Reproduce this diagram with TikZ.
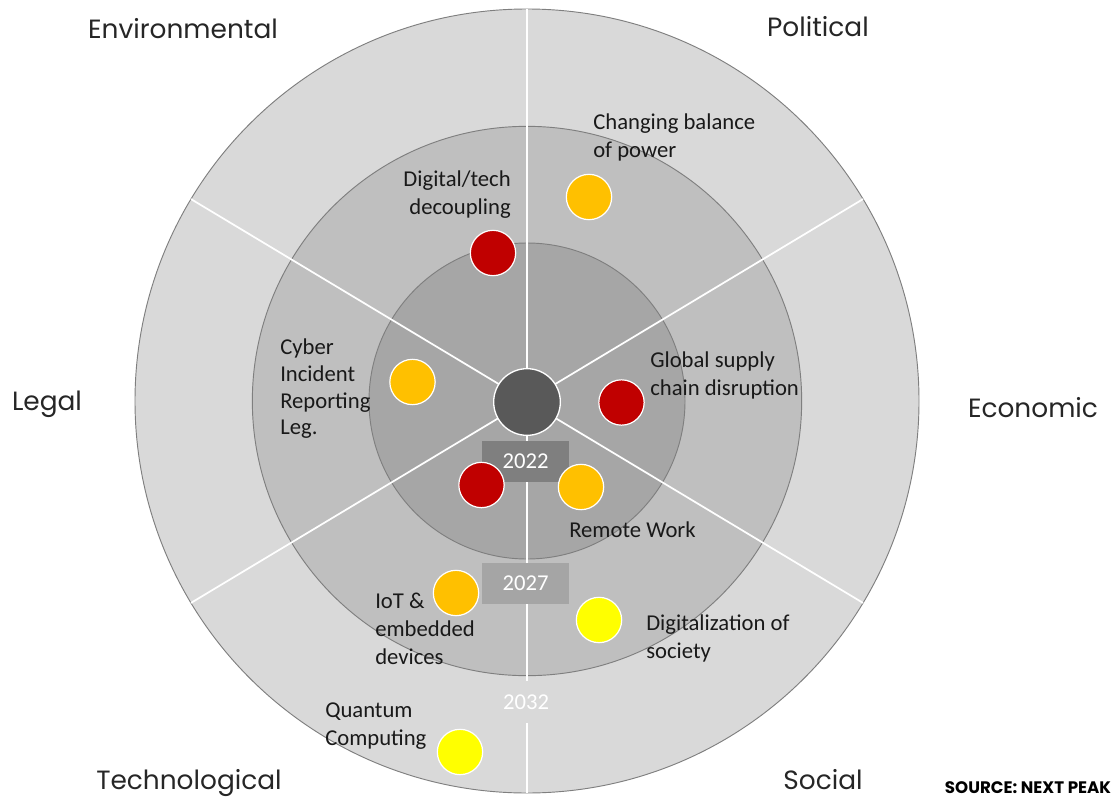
\documentclass[tikz,border=0pt]{standalone}
\usepackage{fontspec}
\newfontfamily\itemfont{Carlito}
\newfontfamily\sectorfont{Poppins}
\definecolor{ringout}{HTML}{D9D9D9}
\definecolor{ringmid}{HTML}{BFBFBF}
\definecolor{ringin}{HTML}{A6A6A6}
\definecolor{ringline}{HTML}{7F7F7F}
\definecolor{corefill}{HTML}{595959}
\definecolor{boxtwo}{HTML}{7F7F7F}
\definecolor{boxseven}{HTML}{A5A5A5}
\definecolor{dotred}{HTML}{C00000}
\definecolor{dotorange}{HTML}{FFC000}
\definecolor{dotyellow}{HTML}{FFFF00}
\definecolor{textgray}{HTML}{262626}

\begin{document}
\begin{tikzpicture}[
    x=0.75pt, y=-0.75pt,
    ring/.style={draw=ringline, line width=0.7pt},
    spoke/.style={draw=white, line width=1.3pt},
    dot/.style={circle, draw=white, line width=0.9pt, minimum size=34pt, inner sep=0pt},
    red_dot/.style={dot, fill=dotred},
    orange_dot/.style={dot, fill=dotorange},
    yellow_dot/.style={dot, fill=dotyellow},
    item/.style={font=\itemfont\fontsize{17}{21}\selectfont, text=black!90, inner sep=0pt, align=left, anchor=west},
    sector/.style={font=\sectorfont\fontsize{19.8}{19.8}\selectfont, text=textgray, inner sep=0pt, anchor=base},
    year_box/.style={minimum width=65pt, minimum height=31pt, inner sep=0pt, text=white, font=\itemfont\fontsize{17}{17}\selectfont}
]
    \useasboundingbox (0,0) rectangle (1120,799);
    \coordinate (c) at (527,401);

    % rings: 2032, 2027, 2022
    \filldraw[ring, fill=ringout] (c) circle[radius=294pt];
    \filldraw[ring, fill=ringmid] (c) circle[radius=206pt];
    \filldraw[ring, fill=ringin] (c) circle[radius=118.5pt];

    % spokes between the six sectors
    \coordinate (s_top) at ([shift={(90:294pt)}]c);
    \coordinate (s_bot) at ([shift={(270:294pt)}]c);
    \coordinate (s_ne) at ([shift={(31:294pt)}]c);
    \coordinate (s_nw) at ([shift={(149:294pt)}]c);
    \coordinate (s_sw) at ([shift={(211:294pt)}]c);
    \coordinate (s_se) at ([shift={(329:294pt)}]c);
    \draw[spoke] (s_top) -- (s_bot);
    \draw[spoke] (c) -- (s_ne);
    \draw[spoke] (c) -- (s_nw);
    \draw[spoke] (c) -- (s_sw);
    \draw[spoke] (c) -- (s_se);

    % year tags
    \node[year_box, fill=boxtwo] (y22) at (525.5,461.5) {2022};
    \node[year_box, fill=boxseven] (y27) at (525.5,583.5) {2027};
    \node[year_box, fill=ringout] (y32) at (526,702) {2032};

    \node[circle, fill=corefill, draw=white, line width=1pt, minimum size=50pt] (core) at (527,402) {};

    % trends
    \node[orange_dot] (balance) at (589,197) {};
    \node[red_dot] (dtech) at (493,253) {};
    \node[orange_dot] (cyber) at (412.5,382) {};
    \node[red_dot] (supply) at (621.5,402.5) {};
    \node[red_dot] (r22) at (481.5,485) {};
    \node[orange_dot] (remote) at (581,487) {};
    \node[orange_dot] (iot) at (456,593) {};
    \node[yellow_dot] (digsoc) at (599,620) {};
    \node[yellow_dot] (quantum) at (460,752) {};

    \node[item] (balance_l) at (593,137) {Changing balance\\of power};
    \node[item, anchor=east, align=right] (dtech_l) at (511,195) {Digital/tech\\decoupling};
    \node[item, font=\itemfont\fontsize{17}{20}\selectfont] (cyber_l) at (280,389) {Cyber\\Incident\\Reporting\\Leg.};
    \node[item] (supply_l) at (650,375) {Global supply\\chain disruption};
    \node[item] (remote_l) at (569,530) {Remote Work};
    \node[item] (digsoc_l) at (646,638) {Digitalization of\\society};
    \node[item] (iot_l) at (375,629) {IoT \&\\embedded\\devices};
    \node[item] (quantum_l) at (325,726) {Quantum\\Computing};

    % sectors
    \node[sector] (env) at (183,39) {Environmental};
    \node[sector] (pol) at (818,37) {Political};
    \node[sector] (leg) at (47,410) {Legal};
    \node[sector] (eco) at (1033,417) {Economic};
    \node[sector] (tec) at (189,789) {Technological};
    \node[sector] (soc) at (823,789) {Social};

    \node[font=\sectorfont\bfseries\fontsize{12.5}{12.5}\selectfont, text=black, inner sep=0pt, anchor=base] (src) at (1028,793) {SOURCE: NEXT PEAK};
\end{tikzpicture}
\end{document}
